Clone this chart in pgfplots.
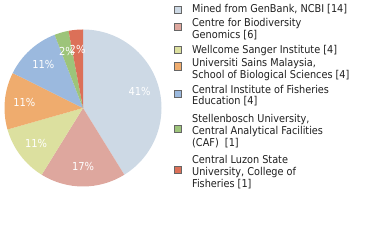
\documentclass[border=0pt]{standalone}
\usepackage{pgfplots}
\pgfplotsset{compat=1.18}
\usepackage{pgfplotstable}
\usepackage{fontspec}
\setmainfont{DejaVu Sans Condensed}
\definecolor{c1}{HTML}{CDD9E5}
\definecolor{c2}{HTML}{DEA79E}
\definecolor{c3}{HTML}{DCE09F}
\definecolor{c4}{HTML}{EFAC6E}
\definecolor{c5}{HTML}{9BB9DE}
\definecolor{c6}{HTML}{9DC47A}
\definecolor{c7}{HTML}{DC7058}
\pgfplotstableread{
value color
14 c1
6 c2
4 c3
4 c4
4 c5
1 c6
1 c7
}\piedata
\begin{document}
\begin{tikzpicture}
\begin{axis}[hide axis, scale only axis, width=380pt, height=240pt,
  xmin=0, xmax=380, ymin=-240, ymax=0, clip=false]
\path (axis cs:0,0) rectangle (axis cs:380,-240);
\def\cx{83}\def\cy{-108}\def\r{78.5}\def\tot{34}
\pgfmathsetmacro\cum{0}
\pgfplotsforeachungrouped \i in {0,...,6}{%
  \pgfplotstablegetelem{\i}{value}\of\piedata \let\v\pgfplotsretval
  \pgfplotstablegetelem{\i}{color}\of\piedata \let\c\pgfplotsretval
  \pgfmathsetmacro\a{90-\cum*360/\tot}
  \pgfmathsetmacro\cum{\cum+\v}
  \pgfmathsetmacro\b{90-\cum*360/\tot}
  \pgfmathsetmacro\sx{\cx+\r*cos(\a)}
  \pgfmathsetmacro\sy{\cy+\r*sin(\a)}
  \edef\temp{%
    \noexpand\fill[\c] (axis cs:\cx,\cy) -- (axis cs:\sx,\sy) arc[start angle=\a, end angle=\b, radius=\r pt] -- cycle;
  }\temp
}
\pgfmathsetmacro\cum{0}
\pgfplotsforeachungrouped \i in {0,...,6}{%
  \pgfplotstablegetelem{\i}{value}\of\piedata \let\v\pgfplotsretval
  \pgfmathsetmacro\a{90-\cum*360/\tot}
  \pgfmathsetmacro\cum{\cum+\v}
  \pgfmathsetmacro\b{90-\cum*360/\tot}
  \pgfmathsetmacro\m{(\a+\b)/2}
  \pgfmathsetmacro\lx{\cx+0.75*\r*cos(\m)}
  \pgfmathsetmacro\ly{\cy+0.75*\r*sin(\m)}
  \pgfmathtruncatemacro\p{100*\v/\tot}
  \edef\temp{%
    \noexpand\node[text=white, inner sep=0, font=\noexpand\fontsize{11}{12}\noexpand\selectfont] at (axis cs:\lx,\ly) {\p\noexpand\%};
  }\temp
}
% legend swatches
\foreach \yy/\cc in {10/c1, 27/c2, 50/c3, 66.5/c4, 94/c5, 129/c6, 170/c7}{
  \pgfmathsetmacro\ya{-\yy+3.6}\pgfmathsetmacro\yb{-\yy-3.6}
  \edef\temp{\noexpand\filldraw[fill=\cc, draw=gray!80!black, line width=0.8pt] (axis cs:174.5,\ya) rectangle (axis cs:181.5,\yb);}\temp
}
% legend text
\foreach \yy/\lbl in {12.7/{Mined from GenBank, NCBI [14]},
  26.7/{Centre for Biodiversity}, 38.3/{Genomics [6]},
  53.3/{Wellcome Sanger Institute [4]},
  66.7/{Universiti Sains Malaysia,}, 78.5/{School of Biological Sciences [4]},
  93.3/{Central Institute of Fisheries}, 105/{Education [4]},
  122.7/{Stellenbosch University,}, 135/{Central Analytical Facilities}, 146.5/{(CAF)\ \ [1]},
  164/{Central Luzon State}, 176/{University, College of}, 187.7/{Fisheries [1]}}{
  \edef\temp{\noexpand\node[anchor=base west, inner sep=0, text=black!88, font=\noexpand\fontsize{10.8}{12}\noexpand\selectfont] at (axis cs:192,-\yy) {\unexpanded\expandafter{\lbl}};}\temp
}
\end{axis}
\end{tikzpicture}
\end{document}
